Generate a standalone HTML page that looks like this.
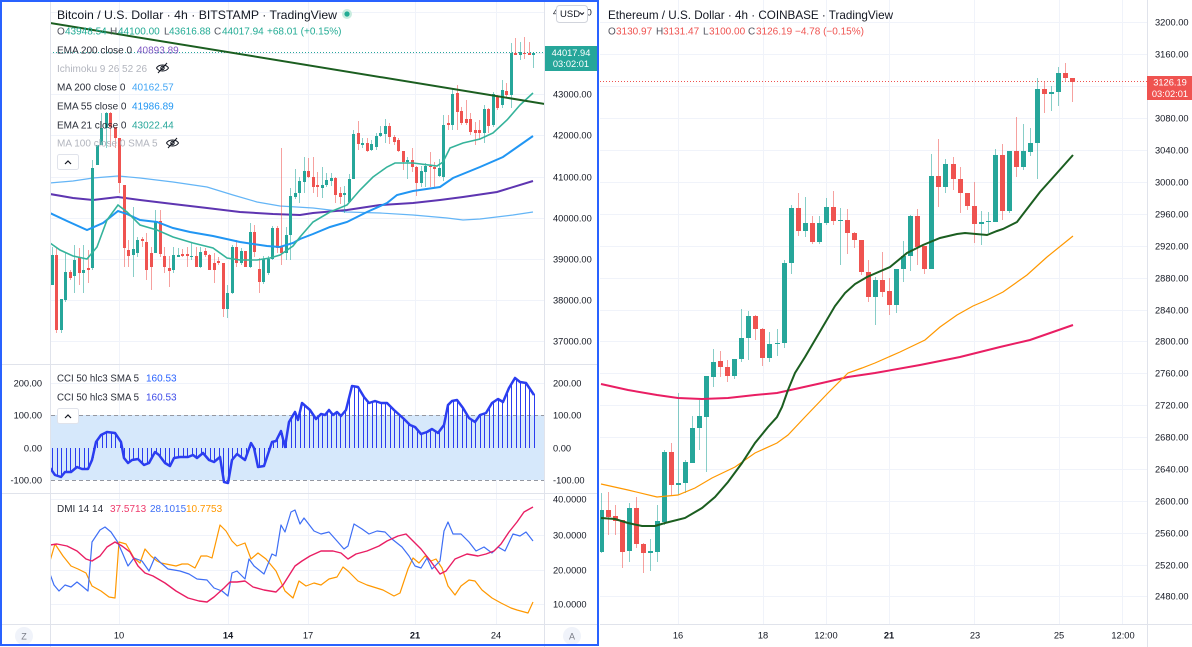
<!DOCTYPE html>
<html><head><meta charset="utf-8">
<style>
html,body{margin:0;padding:0;background:#fff;}
svg{display:block;font-family:"Liberation Sans",Arial,sans-serif;}
.ax{font-size:9.3px;fill:#131722;}
.lg{font-size:10px;fill:#2a2e39;}
.tt{font-size:11.6px;fill:#131722;}
.g{stroke:#f0f3fa;stroke-width:1;fill:none;}
.sep{stroke:#e0e3eb;stroke-width:1;fill:none;}
.b{font-weight:bold;}
</style></head><body>
<svg id="s" width="1192" height="647" viewBox="0 0 1192 647" xmlns="http://www.w3.org/2000/svg">
<defs>
<clipPath id="cM"><rect x="51" y="0" width="493" height="364"/></clipPath>
<clipPath id="cC"><rect x="51" y="365" width="493" height="128"/></clipPath>
<clipPath id="cD"><rect x="51" y="494" width="493" height="130"/></clipPath>
<clipPath id="cR"><rect x="600" y="0" width="547" height="624"/></clipPath>
</defs>
<rect x="0" y="0" width="1192" height="647" fill="#fff"/>

<!-- LEFT PANE GRID -->
<g class="g">
<path d="M119.5,0V624M228.5,0V624M308.5,0V624M415.5,0V624M496.5,0V624"/>
<path d="M50,12.5H545M50,53.5H545M50,94.5H545M50,135.5H545M50,177.5H545M50,218.5H545M50,259.5H545M50,300.5H545M50,341.5H545"/>
<path d="M50,383.5H545M50,448.5H545"/>
<path d="M50,499.5H545M50,535.5H545M50,570.5H545M50,604.5H545"/>
</g>
<!-- CCI band -->
<rect x="51" y="415" width="493" height="65" fill="#d6e8fb"/>
<path d="M51,415.5H544M51,480.5H544" stroke="#9598a1" stroke-width="1" stroke-dasharray="4 3" fill="none"/>

<!-- separators left -->
<g class="sep">
<path d="M0,364.5H598M0,493.5H598M0,624.5H598"/>
<path d="M50.5,0V647M544.5,0V647"/>
</g>

<!-- RIGHT PANE GRID -->
<g class="g">
<path d="M678.5,0V624M763.5,0V624M826.5,0V624M889.5,0V624M974.5,0V624M1059.5,0V624M1122.5,0V624"/>
<path d="M600,22.5H1147M600,54.5H1147M600,86.5H1147M600,118.5H1147M600,150.5H1147M600,182.5H1147M600,214.5H1147M600,246.5H1147M600,278.5H1147M600,310.5H1147M600,341.5H1147M600,373.5H1147M600,405.5H1147M600,437.5H1147M600,469.5H1147M600,501.5H1147M600,533.5H1147M600,565.5H1147M600,596.5H1147"/>
</g>
<g class="sep">
<path d="M1147.5,0V647M600,624.5H1192"/>
</g>

<!-- LEFT MAIN CONTENT -->
<g clip-path="url(#cM)">
<path d="M50,52.5H545" stroke="#26a69a" stroke-width="1" stroke-dasharray="1 2"/>
<polyline fill="none" stroke="#64b5f6" stroke-width="1.2" points="50,183 73,181 93,178 118,176 140,178 173,182 207,187 233,195 257,202 280,206 313,208 347,212 380,213 413,215 447,218 463,220 480,219 513,215 533,212"/>
<polyline fill="none" stroke="#5e35b1" stroke-width="2" points="50,194 73,198 93,200 118,197 140,200 173,204 207,208 240,212 273,214 300,215 313,213 347,210 380,205 413,203 440,200 463,197 497,192 533,181"/>
<g id="candL"></g>
<polyline fill="none" stroke="#2196f3" stroke-width="2" points="50,213 67,221 87,230 103,223 118,211 127,214 140,220 157,222 173,228 190,232 213,236 240,242 267,246 280,247 293,243 300,239 313,234 330,227 347,222 367,212 387,203 397,195 413,191 440,187 453,178 480,167 503,157 533,136"/>
<polyline fill="none" stroke="#35b39b" stroke-width="1.6" points="50,243 60,250 73,256 87,259 97,247 107,220 118,205 127,212 140,225 157,230 173,237 193,243 213,248 227,258 240,260 257,260 270,258 280,255 293,246 300,237 313,222 330,212 347,205 360,190 373,177 387,167 395,163 413,163 437,166 443,162 450,148 463,143 480,139 493,133 507,120 520,105 533,93"/>
<path d="M50,23L545,104" stroke="#1b5e20" stroke-width="2" fill="none"/>
</g>

<!-- CCI content -->
<g clip-path="url(#cC)">
<g id="cciCols"></g>
<polyline id="cciLine" fill="none" stroke="#2b3df0" stroke-width="2.5" stroke-linejoin="round" points="50,468 55,475 61,477 65,472 71,472 77,467 82,469 88,469 92,460 96,442 101,435 107,432 115,433 121,442 124,458 128,463 132,460 138,459 144,465 149,463 155,452 159,455 165,463 170,466 174,458 180,457 188,457 193,455 197,458 203,453 209,460 214,462 220,457 224,482 228,483 232,460 237,454 245,460 251,443 254,448 258,467 264,466 272,442 276,441 281,431 285,447 289,422 295,412 298,420 302,403 310,410 316,419 321,414 325,415 329,410 333,415 337,412 341,416 346,410 352,386 358,387 364,397 369,403 375,401 381,403 387,403 394,410 404,419 410,425 415,427 421,434 427,432 432,429 438,433 444,425 448,405 452,401 457,400 463,408 469,418 475,422 480,415 486,413 492,403 498,399 503,402 509,388 515,378 520,382 526,383 534,395"/>
</g>

<!-- DMI content -->
<g clip-path="url(#cD)" fill="none" stroke-width="1.2" stroke-linejoin="round">
<polyline stroke="#ff9800" points="50,561 55,544 63,556 71,566 78,569 86,573 92,586 101,591 109,597 115,598 119,542 126,544 134,558 140,563 145,549 151,556 157,561 161,563 166,564 176,566 182,564 188,564 195,568 201,556 207,556 212,558 220,525 226,531 232,541 237,546 245,543 251,559 258,553 266,559 276,571 285,591 293,598 299,581 306,586 314,583 321,585 329,579 337,577 343,567 348,571 358,581 367,585 383,590 394,596 400,593 408,569 413,558 419,563 425,556 431,561 436,559 442,568 448,586 455,595 461,586 469,580 475,581 482,590 492,598 501,603 511,608 517,610 528,613 533,602"/>
<polyline stroke="#3f6ff5" points="50,574 54,585 59,591 65,585 71,587 77,582 82,586 88,591 92,542 100,530 105,527 111,532 117,541 122,552 128,566 134,558 142,561 149,571 155,557 161,563 168,569 180,571 189,574 197,579 207,580 214,588 222,591 228,596 232,573 237,571 245,579 249,559 254,566 264,574 272,554 276,556 281,525 285,532 291,512 295,510 300,524 304,518 314,531 321,534 329,532 337,541 344,549 348,546 354,524 362,529 369,534 377,531 385,532 392,539 402,547 409,556 415,566 421,568 427,558 432,569 440,561 444,531 448,522 453,534 461,534 469,542 476,551 484,547 492,553 498,547 505,551 513,534 520,536 526,532 533,541"/>
<polyline stroke="#e91e63" stroke-width="1.4" points="50,545 57,544 67,546 77,551 86,559 92,561 100,556 107,547 115,542 122,546 130,552 138,566 145,573 153,576 165,583 176,591 188,598 199,601 207,602 214,597 224,588 230,582 237,582 245,581 253,587 264,590 276,592 283,585 295,566 302,561 310,556 321,551 333,551 341,553 348,559 356,554 367,551 379,546 387,541 398,536 406,534 413,541 421,549 429,559 440,574 446,571 455,559 467,554 478,556 486,554 494,551 501,544 509,532 517,522 524,512 533,507"/>
</g>

<!-- RIGHT CONTENT -->
<g clip-path="url(#cR)">
<path d="M600,81.5H1147" stroke="#ef5350" stroke-width="1" stroke-dasharray="1 2"/>
<g id="candR"></g>
<polyline fill="none" stroke="#e91e63" stroke-width="2" points="601,384 628,390 657,395 678,398 702,399 728,398 755,395 777,393 795,389 822,383 848,377 875,373 920,365 960,357 1000,347 1030,340 1073,325"/>
<polyline fill="none" stroke="#ff9800" stroke-width="1.2" points="601,484 628,490 657,497 678,495 695,488 712,478 735,467 755,453 777,443 788,435 805,417 828,393 848,373 862,368 875,363 900,352 925,340 940,327 957,315 973,306 987,300 1003,292 1027,275 1047,257 1073,236"/>
<polyline fill="none" stroke="#1b5e20" stroke-width="2" points="601,518 615,519 628,523 642,526 655,526 665,523 685,518 702,508 715,497 728,482 742,463 755,443 768,427 777,417 782,407 788,390 795,373 805,357 815,340 825,323 835,306 845,293 855,284 867,277 890,267 907,253 923,245 940,238 957,234 965,233 987,235 997,231 1003,229 1017,222 1030,205 1040,192 1057,173 1073,155"/>
</g>

<!-- LEFT AXIS LABELS -->
<g class="ax">
<text x="553" y="15.3">45000.00</text>
<text x="553" y="97.3">43000.00</text>
<text x="553" y="138.3">42000.00</text>
<text x="553" y="180.3">41000.00</text>
<text x="553" y="221.3">40000.00</text>
<text x="553" y="262.3">39000.00</text>
<text x="553" y="303.3">38000.00</text>
<text x="553" y="344.3">37000.00</text>
<text x="553" y="386.3">200.00</text>
<text x="553" y="418.3">100.00</text>
<text x="553" y="451.3">0.00</text>
<text x="553" y="483.3">-100.00</text>
<text x="42" y="386.3" text-anchor="end">200.00</text>
<text x="42" y="418.3" text-anchor="end">100.00</text>
<text x="42" y="451.3" text-anchor="end">0.00</text>
<text x="42" y="483.3" text-anchor="end">-100.00</text>
<text x="553" y="502.3">40.0000</text>
<text x="553" y="538.3">30.0000</text>
<text x="553" y="573.3">20.0000</text>
<text x="553" y="607.3">10.0000</text>
<text x="119" y="638.3" text-anchor="middle">10</text>
<text x="228" y="638.3" text-anchor="middle" class="b">14</text>
<text x="308" y="638.3" text-anchor="middle">17</text>
<text x="415" y="638.3" text-anchor="middle" class="b">21</text>
<text x="496" y="638.3" text-anchor="middle">24</text>
</g>
<!-- USD box -->
<rect x="556.5" y="5.5" width="31" height="17" rx="3" fill="#fff" stroke="#d1d4dc"/>
<text x="560" y="17.2" style="font-size:9.5px;fill:#131722">USD</text>
<path d="M580,12.5l2,2l2,-2" stroke="#131722" stroke-width="1" fill="none"/>
<!-- left price label -->
<rect x="545" y="46" width="52" height="25" fill="#26a69a"/>
<text x="571" y="56" text-anchor="middle" style="font-size:9.3px;fill:#fff">44017.94</text>
<text x="571" y="67" text-anchor="middle" style="font-size:9.3px;fill:#fff">03:02:01</text>

<!-- Z / A buttons -->
<circle cx="24" cy="636" r="9" fill="#f0f3fa"/>
<text x="24" y="639.5" text-anchor="middle" style="font-size:9px;fill:#787b86">Z</text>
<circle cx="572" cy="636" r="9" fill="#f0f3fa"/>
<text x="572" y="639.5" text-anchor="middle" style="font-size:9px;fill:#787b86">A</text>

<!-- LEFT LEGEND -->
<text class="tt" x="57" y="19" textLength="280" lengthAdjust="spacingAndGlyphs">Bitcoin / U.S. Dollar · 4h · BITSTAMP · TradingView</text>
<circle cx="347" cy="14" r="5" fill="#c8ecdf"/>
<circle cx="347" cy="14" r="2.6" fill="#22ab94"/>
<text class="lg" y="34.5"><tspan x="57" fill="#50535e">O</tspan><tspan x="65" fill="#22ab94">43948.54</tspan><tspan x="110" fill="#50535e">H</tspan><tspan x="118" fill="#22ab94">44100.00</tspan><tspan x="164" fill="#50535e">L</tspan><tspan x="169" fill="#22ab94">43616.88</tspan><tspan x="214" fill="#50535e">C</tspan><tspan x="222" fill="#22ab94">44017.94</tspan><tspan x="267" fill="#22ab94">+68.01 (+0.15%)</tspan></text>
<text class="lg" x="57" y="53.5">EMA 200 close 0</text><text class="lg" x="137" y="53.5" fill="#7e57c2" style="fill:#7e57c2">40893.89</text>
<text class="lg" x="57" y="72" style="fill:#b2b5be">Ichimoku 9 26 52 26</text>
<g stroke="#131722" stroke-width="1" fill="none">
<path d="M156.5,68C159,64 166,64 168.5,68C166,72 159,72 156.5,68Z"/><circle cx="162.5" cy="68" r="1.7"/><path d="M158,73L167,63"/>
<path d="M166.5,143C169,139 176,139 178.5,143C176,147 169,147 166.5,143Z"/><circle cx="172.5" cy="143" r="1.7"/><path d="M168,148L177,138"/>
</g>
<text class="lg" x="57" y="90.5">MA 200 close 0</text><text class="lg" x="132" y="90.5" style="fill:#42a5f5">40162.57</text>
<text class="lg" x="57" y="109.5">EMA 55 close 0</text><text class="lg" x="132" y="109.5" style="fill:#2196f3">41986.89</text>
<text class="lg" x="57" y="128.5">EMA 21 close 0</text><text class="lg" x="132" y="128.5" style="fill:#26a69a">43022.44</text>
<text class="lg" x="57" y="146.5" style="fill:#b2b5be">MA 100 close 0 SMA 5</text>
<rect x="57.5" y="154.5" width="21" height="15" rx="2" fill="#fff" stroke="#e0e3eb"/>
<path d="M65,164l3,-3l3,3" stroke="#131722" stroke-width="1.2" fill="none"/>

<!-- CCI legend -->
<text class="lg" x="57" y="381.5" textLength="82" lengthAdjust="spacingAndGlyphs">CCI 50 hlc3 SMA 5</text><text class="lg" x="146" y="381.5" style="fill:#2962ff">160.53</text>
<text class="lg" x="57" y="400.5" textLength="82" lengthAdjust="spacingAndGlyphs">CCI 50 hlc3 SMA 5</text><text class="lg" x="146" y="400.5" style="fill:#3d4be8">160.53</text>
<rect x="57.5" y="408.5" width="21" height="15" rx="2" fill="#fff" stroke="#e0e3eb"/>
<path d="M65,418l3,-3l3,3" stroke="#131722" stroke-width="1.2" fill="none"/>

<!-- DMI legend -->
<text class="lg" x="57" y="512">DMI 14 14</text>
<text class="lg" x="110" y="512" style="fill:#ee3a6b">37.5713</text>
<text class="lg" x="150" y="512" style="fill:#3f6ff5">28.1015</text>
<text class="lg" x="186" y="512" style="fill:#ff9800">10.7753</text>

<!-- RIGHT AXIS LABELS -->
<g class="ax">
<text x="1155" y="25.3">3200.00</text>
<text x="1155" y="57.3">3160.00</text>
<text x="1155" y="121.3">3080.00</text>
<text x="1155" y="153.3">3040.00</text>
<text x="1155" y="185.3">3000.00</text>
<text x="1155" y="217.3">2960.00</text>
<text x="1155" y="249.3">2920.00</text>
<text x="1155" y="281.3">2880.00</text>
<text x="1155" y="313.3">2840.00</text>
<text x="1155" y="344.3">2800.00</text>
<text x="1155" y="376.3">2760.00</text>
<text x="1155" y="408.3">2720.00</text>
<text x="1155" y="440.3">2680.00</text>
<text x="1155" y="472.3">2640.00</text>
<text x="1155" y="504.3">2600.00</text>
<text x="1155" y="536.3">2560.00</text>
<text x="1155" y="568.3">2520.00</text>
<text x="1155" y="599.3">2480.00</text>
<text x="678" y="638.3" text-anchor="middle">16</text>
<text x="763" y="638.3" text-anchor="middle">18</text>
<text x="826" y="638.3" text-anchor="middle">12:00</text>
<text x="889" y="638.3" text-anchor="middle" class="b">21</text>
<text x="975" y="638.3" text-anchor="middle">23</text>
<text x="1059" y="638.3" text-anchor="middle">25</text>
<text x="1123" y="638.3" text-anchor="middle">12:00</text>
</g>
<rect x="1147" y="76" width="45" height="24" fill="#ef5350"/>
<text x="1170" y="85.5" text-anchor="middle" style="font-size:9.3px;fill:#fff">3126.19</text>
<text x="1170" y="96.8" text-anchor="middle" style="font-size:9.3px;fill:#fff">03:02:01</text>

<!-- RIGHT LEGEND -->
<text class="tt" x="608" y="19" textLength="285" lengthAdjust="spacingAndGlyphs">Ethereum / U.S. Dollar · 4h · COINBASE · TradingView</text>
<text class="lg" y="34.5"><tspan x="608" fill="#50535e">O</tspan><tspan x="616" fill="#ef5350">3130.97</tspan><tspan x="656" fill="#50535e">H</tspan><tspan x="663" fill="#ef5350">3131.47</tspan><tspan x="703" fill="#50535e">L</tspan><tspan x="709" fill="#ef5350">3100.00</tspan><tspan x="748" fill="#50535e">C</tspan><tspan x="756" fill="#ef5350">3126.19</tspan><tspan x="795" fill="#ef5350">−4.78 (−0.15%)</tspan></text>

<!-- selection frame -->
<rect x="1" y="1" width="597" height="644" fill="none" stroke="#2962ff" stroke-width="2"/>
</svg>
<script>
(function(){
var NS="http://www.w3.org/2000/svg";
function el(p,tag,a){var e=document.createElementNS(NS,tag);for(var k in a)e.setAttribute(k,a[k]);p.appendChild(e);return e;}
function candles(gid,data,x0,dx,bw){
 var g=document.getElementById(gid);
 var tb="",rb="",tw="",rw="";
 for(var i=0;i<data.length;i++){
  var d=data[i],o=d[0],c=d[1],h=d[2],l=d[3],x=x0+i*dx;
  var top=Math.min(o,c),bot=Math.max(o,c);if(bot-top<1)bot=top+1;
  h=Math.min(h,top);l=Math.max(l,bot);
  var up=c<o;
  var xb=Math.round(x-bw/2);
  var body="M"+xb+","+top+"h"+bw+"V"+bot+"h"+(-bw)+"Z";
  var wick="M"+(xb+bw/2)+","+h+"V"+l;
  if(up){tb+=body;tw+=wick;}else{rb+=body;rw+=wick;}
 }
 el(g,"path",{d:tw,stroke:"#26a69a","stroke-opacity":"0.55","stroke-width":"1",fill:"none"});
 el(g,"path",{d:rw,stroke:"#ef5350","stroke-opacity":"0.55","stroke-width":"1",fill:"none"});
 el(g,"path",{d:tb,fill:"#26a69a"});
 el(g,"path",{d:rb,fill:"#ef5350"});
}
var L=[
[285,255,247,285],[255,330,247,333],[330,299,299,333],[300,272,253,302],[272,278,270,280],[276,260,245,293],[257,273,248,285],[273,270,245,293],[268,270,250,283],[268,168,160,270],
[165,145,145,165],[145,128,113,145],[128,113,112,148],[113,127,112,147],[127,138,127,148],[138,183,138,193],[185,248,185,267],[250,256,240,267],[255,249,207,277],[253,240,237,257],
[239,241,237,247],[242,270,233,280],[253,267,247,290],[253,221,210,253],[221,254,210,257],[256,267,247,273],[268,271,256,287],[270,255,247,273],[257,255,248,257],[254,256,249,257],
[254,256,247,267],[257,256,242,260],[256,267,247,267],[267,252,247,268],[251,255,248,257],[255,270,254,270],[263,270,253,283],[261,263,257,265],[263,309,263,317],[309,293,285,318],
[293,247,245,294],[247,263,240,267],[263,251,248,265],[251,267,251,267],[267,232,223,268],[232,252,225,257],[269,282,258,293],[282,259,256,284],[273,259,256,275],[259,228,226,260],
[228,248,226,253],[247,253,148,265],[253,235,227,260],[235,196,188,260],[197,193,169,199],[193,181,177,203],[182,171,157,193],[171,177,158,178],[177,187,157,193],[185,187,172,197],
[188,185,167,198],[185,180,173,187],[181,178,173,186],[178,195,177,203],[193,197,187,204],[195,193,186,213],[202,179,174,203],[179,134,130,179],[133,144,121,150],[145,143,138,148],
[143,151,138,152],[150,144,140,151],[147,136,133,150],[136,133,126,137],[134,126,119,143],[126,137,123,144],[137,142,135,145],[140,151,138,152],[151,162,151,170],[162,160,157,179],
[160,167,148,172],[167,183,166,196],[183,171,166,187],[172,166,163,187],[166,167,152,187],[167,169,162,187],[176,168,159,177],[177,125,115,181],[123,125,115,130],[125,94,88,130],
[93,112,85,130],[111,123,107,125],[119,123,100,125],[119,132,113,135],[130,133,122,145],[130,133,120,140],[133,109,105,143],[109,126,108,133],[125,94,92,127],[97,108,95,110],
[105,90,80,108],[91,95,83,97],[95,53,43,108],[53,55,38,55],[55,52,42,60],[53,54,37,59],[53,55,42,55],[55,53,52,68]];
var R=[
[552,510,493,553],[510,517,492,535],[516,521,505,535],[520,552,520,568],[551,508,503,562],[508,544,497,548],[544,553,543,573],[553,551,539,571],[552,521,505,562],[522,452,450,525],
[452,485,443,495],[485,483,393,495],[483,462,460,493],[463,428,416,463],[428,416,400,450],[417,376,376,472],[377,362,349,387],[361,367,351,377],[367,376,360,382],[376,359,359,379],
[359,338,309,362],[338,316,311,360],[316,329,315,340],[329,358,328,366],[358,344,332,362],[344,343,329,356],[343,263,260,348],[263,208,205,274],[208,231,193,236],[231,223,197,237],
[223,242,216,244],[242,223,216,244],[223,207,198,225],[207,221,191,225],[221,220,208,265],[220,233,209,254],[233,240,232,248],[240,272,240,275],[272,297,260,302],[297,280,277,325],
[280,292,252,297],[291,305,278,315],[305,269,269,313],[269,256,241,282],[256,216,215,271],[216,247,209,265],[246,269,246,274],[269,176,154,269],[176,187,139,207],[187,164,159,193],
[164,179,157,190],[179,193,167,213],[193,206,193,210],[206,224,182,243],[224,222,211,245],[222,221,212,233],[222,155,149,222],[155,211,144,220],[211,151,151,213],[151,167,117,177],
[167,151,124,170],[152,143,128,156],[143,89,78,179],[89,94,82,113],[94,92,86,111],[92,73,67,106],[73,78,63,81],[78,82,78,102]];
candles("candL",L,52,4.5,3);
candles("candR",R,601,7.04,5);
// CCI columns
var pts=document.getElementById("cciLine").getAttribute("points").trim().split(/\s+/).map(function(s){var a=s.split(",");return [+a[0],+a[1]];});
function interp(x){
 if(x<=pts[0][0])return pts[0][1];
 for(var i=1;i<pts.length;i++){if(x<=pts[i][0]){var a=pts[i-1],b=pts[i];return a[1]+(b[1]-a[1])*(x-a[0])/(b[0]-a[0]);}}
 return pts[pts.length-1][1];
}
var d="";
for(var i=0;i<108;i++){var x=52+i*4.5;var xr=Math.round(x)+0.5;var y=interp(x);d+="M"+xr+",448V"+y.toFixed(1);}
el(document.getElementById("cciCols"),"path",{d:d,stroke:"#2b3df0","stroke-width":"1",fill:"none"});
})();
</script>
</body></html>
